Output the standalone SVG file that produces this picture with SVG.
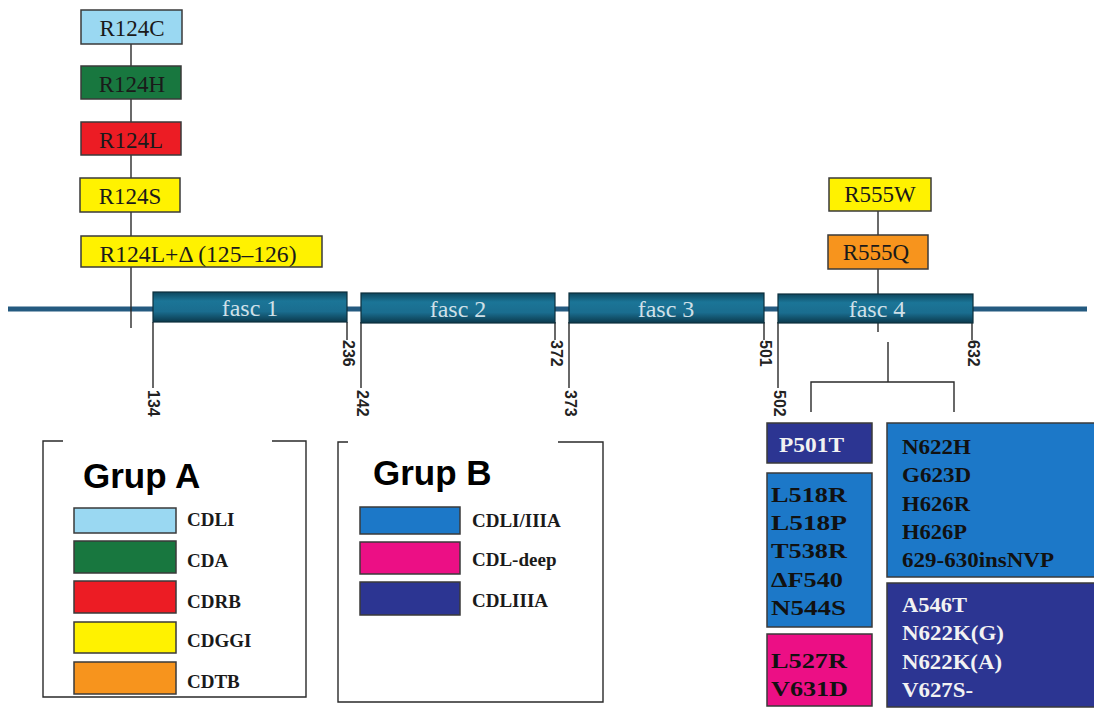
<svg xmlns="http://www.w3.org/2000/svg" width="1094" height="709" viewBox="0 0 1094 709">
<defs>
<linearGradient id="fg" x1="0" y1="0" x2="0" y2="1">
<stop offset="0" stop-color="#0e465d"/>
<stop offset="0.3" stop-color="#1b7597"/>
<stop offset="0.65" stop-color="#1a6d8f"/>
<stop offset="1" stop-color="#0b394c"/>
</linearGradient>
<style>
.box{stroke:#3a3a3a;stroke-width:1.5}
.mut{font-family:"Liberation Serif",serif;font-size:23px;fill:#1a1a1a;text-anchor:middle}
.fasc{fill:url(#fg);stroke:#0d2f3d;stroke-width:1.2}
.ft{font-family:"Liberation Serif",serif;font-size:24px;fill:#cfe0e8;text-anchor:middle}
.ln{stroke:#2a2a2a;stroke-width:1.4;fill:none}
.tk{font-family:"Liberation Sans",sans-serif;font-size:16px;font-weight:bold;fill:#222;dominant-baseline:central}
.bt{font-family:"Liberation Serif",serif;font-size:21px;font-weight:bold;fill:#111}
.wt{font-family:"Liberation Serif",serif;font-size:21px;font-weight:bold;fill:#f2f2f2}
.lg{font-family:"Liberation Serif",serif;font-size:19px;font-weight:bold;fill:#1a1a1a}
.gp{font-family:"Liberation Sans",sans-serif;font-size:35px;font-weight:bold;fill:#000}
.lb{fill:#9ad8f2}.gr{fill:#18773f}.rd{fill:#ec1c24}.ye{fill:#fff200}.or{fill:#f7941d}
.mb{fill:#1c78c8}.pk{fill:#ec0f85}.db{fill:#2c3592}
</style>
</defs>
<rect width="1094" height="709" fill="#fff"/>
<g id="connectors">
<line x1="8" y1="309" x2="1087" y2="309" stroke="#245a80" stroke-width="5"/>
<line class="ln" x1="131" y1="44" x2="131" y2="328"/>
<line class="ln" x1="878" y1="211" x2="878" y2="294"/>
<line class="ln" x1="878" y1="323" x2="878" y2="332"/>
<path class="ln" d="M888,342 V382 M811,412 V382 H954 V412"/>
<path class="ln" d="M153,322 V388 M347,322 V340 M361,322 V388 M555,322 V340 M569,322 V388 M764,322 V340 M778,322 V388 M972,322 V340"/>
</g>
<g id="ticks">
<text class="tk" transform="translate(153,390) rotate(90)">134</text>
<text class="tk" transform="translate(348,340) rotate(90)">236</text>
<text class="tk" transform="translate(362,390) rotate(90)">242</text>
<text class="tk" transform="translate(556,340) rotate(90)">372</text>
<text class="tk" transform="translate(570,390) rotate(90)">373</text>
<text class="tk" transform="translate(765,340) rotate(90)">501</text>
<text class="tk" transform="translate(779,390) rotate(90)">502</text>
<text class="tk" transform="translate(973,340) rotate(90)">632</text>
</g>
<g id="fasc1"><rect class="fasc" x="153" y="292" width="194" height="30"/><text class="ft" x="250" y="316">fasc 1</text></g>
<g id="fasc2"><rect class="fasc" x="361" y="293" width="194" height="30"/><text class="ft" x="458" y="317">fasc 2</text></g>
<g id="fasc3"><rect class="fasc" x="569" y="293" width="195" height="30"/><text class="ft" x="666" y="317">fasc 3</text></g>
<g id="fasc4"><rect class="fasc" x="778" y="294" width="195" height="29"/><text class="ft" x="877" y="317">fasc 4</text></g>
<g id="R124C"><rect class="box lb" x="81" y="10" width="101" height="34"/><text class="mut" x="132" y="36">R124C</text></g>
<g id="R124H"><rect class="box gr" x="81" y="66" width="100" height="33"/><text class="mut" x="132" y="92">R124H</text></g>
<g id="R124L"><rect class="box rd" x="81" y="122" width="100" height="33"/><text class="mut" x="131" y="148">R124L</text></g>
<g id="R124S"><rect class="box ye" x="80" y="178" width="100" height="34"/><text class="mut" x="130" y="204">R124S</text></g>
<g id="R124Ldel"><rect class="box ye" x="81" y="236" width="241" height="31"/><text class="mut" x="198" y="262" textLength="197" lengthAdjust="spacingAndGlyphs">R124L+Δ (125–126)</text></g>
<g id="R555W"><rect class="box ye" x="829" y="178" width="102" height="33"/><text class="mut" x="880" y="202">R555W</text></g>
<g id="R555Q"><rect class="box or" x="828" y="235" width="100" height="34"/><text class="mut" x="876" y="260">R555Q</text></g>
<g id="P501T"><rect class="box db" x="767" y="423" width="105" height="40" stroke-width="1"/><text class="wt" x="779" y="452" textLength="65" lengthAdjust="spacingAndGlyphs">P501T</text></g>
<g id="boxL518"><rect class="box mb" x="767" y="473" width="105" height="154" stroke-width="1"/>
<text class="bt" x="771" y="502" textLength="76" lengthAdjust="spacingAndGlyphs">L518R</text>
<text class="bt" x="771" y="530" textLength="76" lengthAdjust="spacingAndGlyphs">L518P</text>
<text class="bt" x="771" y="558" textLength="76" lengthAdjust="spacingAndGlyphs">T538R</text>
<text class="bt" x="771" y="587" textLength="72" lengthAdjust="spacingAndGlyphs">ΔF540</text>
<text class="bt" x="771" y="615" textLength="75" lengthAdjust="spacingAndGlyphs">N544S</text></g>
<g id="boxL527"><rect class="box pk" x="767" y="634" width="105" height="72" stroke-width="1"/>
<text class="bt" x="771" y="668" textLength="76" lengthAdjust="spacingAndGlyphs">L527R</text>
<text class="bt" x="771" y="696" textLength="77" lengthAdjust="spacingAndGlyphs">V631D</text></g>
<g id="boxN622"><rect class="box mb" x="887" y="423" width="210" height="154" stroke-width="1"/>
<text class="bt" x="902" y="454" textLength="69" lengthAdjust="spacingAndGlyphs">N622H</text>
<text class="bt" x="902" y="482" textLength="69" lengthAdjust="spacingAndGlyphs">G623D</text>
<text class="bt" x="902" y="511" textLength="68" lengthAdjust="spacingAndGlyphs">H626R</text>
<text class="bt" x="902" y="539" textLength="65" lengthAdjust="spacingAndGlyphs">H626P</text>
<text class="bt" x="902" y="567" textLength="152" lengthAdjust="spacingAndGlyphs">629-630insNVP</text></g>
<g id="boxA546"><rect class="box db" x="887" y="583" width="210" height="124" stroke-width="1"/>
<text class="wt" x="902" y="612" textLength="65" lengthAdjust="spacingAndGlyphs">A546T</text>
<text class="wt" x="902" y="640" textLength="102" lengthAdjust="spacingAndGlyphs">N622K(G)</text>
<text class="wt" x="902" y="669" textLength="100" lengthAdjust="spacingAndGlyphs">N622K(A)</text>
<text class="wt" x="902" y="697" textLength="71" lengthAdjust="spacingAndGlyphs">V627S-</text></g>
<g id="legendA">
<path class="ln" d="M63,441 H43 V697 H306 V441 H272"/>
<text class="gp" x="83" y="488">Grup A</text>
<rect class="box lb" x="74" y="508" width="102" height="25" stroke-width="1"/><text class="lg" x="187" y="526">CDLI</text>
<rect class="box gr" x="74" y="541" width="102" height="32" stroke-width="1"/><text class="lg" x="187" y="567">CDA</text>
<rect class="box rd" x="74" y="581" width="102" height="32" stroke-width="1"/><text class="lg" x="187" y="608">CDRB</text>
<rect class="box ye" x="74" y="622" width="102" height="31" stroke-width="1"/><text class="lg" x="187" y="647">CDGGI</text>
<rect class="box or" x="74" y="662" width="102" height="32" stroke-width="1"/><text class="lg" x="187" y="688">CDTB</text>
</g>
<g id="legendB">
<path class="ln" d="M348,442 H338 V702 H603 V442 H558"/>
<text class="gp" x="373" y="485">Grup B</text>
<rect class="box mb" x="360" y="507" width="100" height="27" stroke-width="1"/><text class="lg" x="472" y="527">CDLI/IIIA</text>
<rect class="box pk" x="360" y="542" width="100" height="32" stroke-width="1"/><text class="lg" x="472" y="566">CDL-deep</text>
<rect class="box db" x="360" y="582" width="100" height="33" stroke-width="1"/><text class="lg" x="472" y="607">CDLIIIA</text>
</g>
</svg>
